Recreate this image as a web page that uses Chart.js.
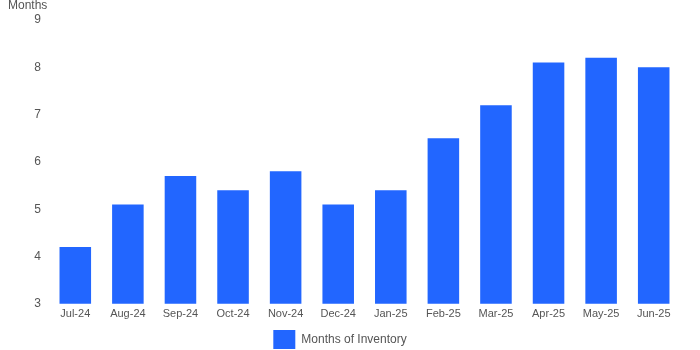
<!DOCTYPE html>
<html>
<head>
<meta charset="utf-8">
<script src="https://cdn.jsdelivr.net/npm/chart.js@4"></script>
<style>
  body { margin: 0; background: #fff; }
  #wrap { width: 700px; height: 350px; position: relative; }
</style>
</head>
<body>
<div id="wrap"><canvas id="barChart"></canvas></div>
<script>
const months = ['Jul-24', 'Aug-24', 'Sep-24', 'Oct-24', 'Nov-24', 'Dec-24',
                'Jan-25', 'Feb-25', 'Mar-25', 'Apr-25', 'May-25', 'Jun-25'];
const inventory = [4.2, 5.1, 5.7, 5.4, 5.8, 5.1, 5.4, 6.5, 7.2, 8.1, 8.2, 8.0];
const yMin = 3;
const yMax = 9;

// axis title sits above the tick labels, top-left
const axisTitle = {
    id: 'axisTitle',
    afterDraw(chart) {
        let c = chart.ctx;
        c.save();
        c.font = '12px "Liberation Sans", Arial, sans-serif';
        c.fillStyle = '#555';
        c.textBaseline = 'top';
        c.fillText('Months', 8, 0);
        c.restore();
    }
};

var ctx = document.getElementById('barChart').getContext('2d');
var myChart = new Chart(ctx, {
    type: 'bar',
    data: {
        labels: months,
        datasets: [{
            label: 'Months of Inventory',
            data: inventory,
            backgroundColor: '#2266ff',
            barPercentage: 0.6,
            categoryPercentage: 1
        }]
    },
    options: {
        responsive: true,
        maintainAspectRatio: false,
        animation: false,
        layout: {
            padding: { top: 20, right: 20, left: 0, bottom: -9 }
        },
        scales: {
            x: {
                grid: { display: false, drawTicks: false },
                border: { display: false },
                ticks: {
                    color: '#555',
                    font: { size: 11, family: '"Liberation Sans", Arial, sans-serif' },
                    padding: 4
                }
            },
            y: {
                min: yMin,
                max: yMax,
                grid: { display: false },
                border: { display: false },
                afterFit: (scale) => { scale.width = 49; },
                ticks: {
                    stepSize: 1,
                    color: '#555',
                    padding: 0,
                    font: { size: 12, family: '"Liberation Sans", Arial, sans-serif' }
                }
            }
        },
        plugins: {
            tooltip: { enabled: false },
            legend: {
                position: 'bottom',
                labels: {
                    boxWidth: 22,
                    boxHeight: 19,
                    padding: 5,
                    color: '#555',
                    font: { size: 12, family: '"Liberation Sans", Arial, sans-serif' }
                }
            }
        }
    },
    plugins: [axisTitle]
});
</script>
</body>
</html>
